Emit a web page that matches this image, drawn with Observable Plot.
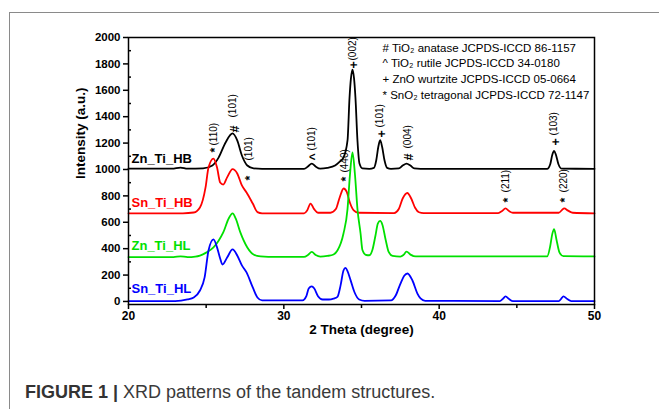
<!DOCTYPE html>
<html><head><meta charset="utf-8">
<script src="https://cdn.jsdelivr.net/npm/d3@7"></script>
<script src="https://cdn.jsdelivr.net/npm/@observablehq/plot@0.6"></script>
<style>
html,body{margin:0;padding:0;background:#fff;}
#wrap{position:relative;width:659px;height:409px;overflow:hidden;font-family:'Liberation Sans',Arial,sans-serif;}
#frameTop{position:absolute;left:10px;top:12px;width:649px;height:0;border-top:1.5px solid #8a8a8a;}
#frameLeft{position:absolute;left:9px;top:12px;width:0;height:397px;border-left:1.5px solid #8a8a8a;}
#chart{position:absolute;left:0;top:0;}
#caption{position:absolute;left:25px;top:381px;font-size:18px;line-height:22px;color:#3a3a3a;white-space:nowrap;}
#caption b{color:#333;}
</style></head>
<body>
<div id="wrap">
  <div id="chart"></div>
  <div id="frameTop"></div>
  <div id="frameLeft"></div>
  <div id="caption"><b>FIGURE 1 |</b> XRD patterns of the tandem structures.</div>
</div>
<script>
// ---- data (2θ in degrees, intensity in a.u.) ----
const seriesNames = ["Zn_Ti_HB", "Sn_Ti_HB", "Zn_Ti_HL", "Sn_Ti_HL"];
const seriesColors = ["#000000", "#ff0000", "#00e000", "#0000ff"];
const labelY = [1083, 750, 424, 98];

const znHB = [[20,1006],[22.8,1006],[23.35,1014],[23.8,1006],[24.8,1008],[25.4,1030],[25.8,1090],[26.25,1205],[26.7,1273],[27.0,1220],[27.3,1106],[27.65,1030],[28.05,1008],[28.6,1005],[31.3,1005],[31.55,1022],[31.8,1045],[32.05,1022],[32.35,1006],[32.8,1012],[33.3,1030],[33.6,1060],[33.84,1090],[34.1,1220],[34.23,1545],[34.32,1690],[34.42,1757],[34.52,1690],[34.61,1545],[34.74,1220],[34.87,1045],[35.06,1008],[35.5,1005],[35.8,1012],[35.95,1070],[36.08,1170],[36.2,1222],[36.33,1170],[36.48,1070],[36.65,1012],[36.9,1005],[37.4,1008],[37.65,1030],[37.9,1045],[38.15,1030],[38.4,1008],[38.8,1005],[46.95,1005],[47.15,1040],[47.28,1110],[47.4,1140],[47.52,1110],[47.68,1040],[47.9,1006],[50,1005]];

const snHB = [[20,668],[23.5,668],[24.2,674],[24.6,712],[24.96,864],[25.15,1015],[25.47,1083],[25.7,1015],[25.9,902],[26.1,886],[26.35,940],[26.7,1002],[27.0,970],[27.3,879],[27.6,826],[28.0,742],[28.3,677],[28.6,668],[31.3,668],[31.5,690],[31.72,742],[31.95,700],[32.2,672],[33.0,672],[33.35,700],[33.6,790],[33.85,856],[34.05,830],[34.25,750],[34.5,690],[34.8,672],[37.1,670],[37.4,700],[37.65,780],[37.95,822],[38.2,780],[38.45,710],[38.7,676],[39.0,670],[43.8,670],[44.05,685],[44.27,705],[44.5,685],[44.75,672],[47.7,672],[47.9,692],[48.05,705],[48.3,688],[48.6,672],[50,668]];

const znHL = [[20,336],[22.9,336],[23.35,342],[23.8,336],[24.3,340],[24.6,348],[25.0,370],[25.47,409],[25.8,460],[26.1,523],[26.45,629],[26.7,667],[26.9,629],[27.2,523],[27.65,409],[28.05,356],[28.5,341],[29,338],[31.3,338],[31.55,352],[31.8,375],[32.05,352],[32.35,340],[32.8,345],[33.2,356],[33.45,386],[33.84,515],[34.1,700],[34.25,950],[34.42,1130],[34.58,960],[34.74,700],[34.94,515],[35.06,390],[35.3,352],[35.5,350],[35.7,390],[35.9,500],[36.05,590],[36.2,610],[36.35,580],[36.55,470],[36.75,375],[37.0,345],[37.5,340],[37.7,352],[37.9,378],[38.15,355],[38.5,341],[46.95,341],[47.15,420],[47.28,510],[47.4,548],[47.55,470],[47.75,370],[48.0,343],[50,341]];

const snHL = [[20,2],[23.0,2],[23.8,15],[24.2,30],[24.6,83],[24.9,182],[25.15,386],[25.47,470],[25.7,410],[25.9,326],[26.05,280],[26.35,333],[26.7,394],[27.0,348],[27.3,273],[27.6,220],[28.0,106],[28.3,30],[28.6,8],[31.2,8],[31.45,40],[31.6,98],[31.8,114],[31.95,100],[32.2,40],[32.5,15],[32.9,15],[33.2,22],[33.45,35],[33.65,120],[33.84,235],[33.97,255],[34.1,230],[34.3,160],[34.55,70],[34.85,15],[35.2,5],[36.9,8],[37.2,45],[37.51,136],[37.75,195],[37.96,212],[38.28,159],[38.6,60],[38.8,23],[39.1,5],[43.9,3],[44.1,20],[44.27,38],[44.5,18],[44.75,3],[47.7,3],[47.85,20],[48.0,38],[48.25,18],[48.5,3],[50,3]];

// peak annotations: phase symbol + Miller index
const peakSym = ["*", "#", "*", "^", "+", "*", "+", "#", "*", "+", "*"];
const peakHkl = ["(110)", "(101)", "(101)", "(101)", "(002)", "(440)", "(101)", "(004)", "(211)", "(103)", "(220)"];
const peakX   = [25.47, 26.7, 27.72, 31.8, 34.42, 33.9, 36.2, 37.95, 44.3, 47.4, 48.0];
const symY    = [1129, 1280, 917, 1068, 1765, 909, 1242, 1068, 750, 1182, 750];
const hklY    = [1182, 1394, 1068, 1144, 1826, 977, 1318, 1159, 826, 1258, 826];

const legendLines = [
  "# TiO\u2082 anatase JCPDS-ICCD 86-1157",
  "^ TiO\u2082 rutile JCPDS-ICCD 34-0180",
  "+ ZnO wurtzite JCPDS-ICCD 05-0664",
  "* SnO\u2082 tetragonal JCPDS-ICCD 72-1147"
];
const xTicks = [20, 30, 40, 50];
const xMinor = [25, 35, 45];
const yTicks = d3.range(0, 2001, 200);
const yMinor = d3.range(100, 2000, 200);

// ---- build table ----
const seriesPts = [znHB, snHB, znHL, snHL];
const lineData = seriesPts.flatMap((pts, i) => pts.map(([x, y]) => ({x, y, name: seriesNames[i]})));

const chart = Plot.plot({
  width: 659, height: 345,
  marginLeft: 128, marginRight: 65, marginTop: 37, marginBottom: 41,
  x: {domain: [20, 50]},
  y: {domain: [-23, 2000]},
  color: {domain: seriesNames, range: seriesColors},
  style: {fontFamily: "'Liberation Sans', Arial, sans-serif", color: "#000", background: "transparent", overflow: "visible"},
  marks: [
    Plot.line(lineData, {x: "x", y: "y", z: "name", stroke: "name", strokeWidth: 1.8, curve: "monotone-x"}),
    Plot.frame({stroke: "#000", strokeWidth: 1.5}),
    Plot.axisX({ticks: xTicks, tickSize: 5, tickPadding: 2, fontSize: 12, fontWeight: "bold", label: null, strokeWidth: 1.5}),
    Plot.axisX({ticks: xMinor, tickSize: 4, tickFormat: () => "", label: null, strokeWidth: 1.5}),
    Plot.axisY({ticks: yTicks, tickSize: 5, tickPadding: 3, tickFormat: d3.format("d"), fontSize: 11.5, fontWeight: "bold", label: null, strokeWidth: 1.5}),
    Plot.axisY({ticks: yMinor, tickSize: 3, dx: 3, tickFormat: () => "", label: null, strokeWidth: 1.5}),
    Plot.text(["Intensity (a.u.)"], {text: d => d, frameAnchor: "left", rotate: -90, dx: -48, dy: 8, fontSize: 13.5, fontWeight: "bold"}),
    Plot.text(["2 Theta (degree)"], {text: d => d, frameAnchor: "bottom", dy: 29, fontSize: 13.5, fontWeight: "bold"}),
    Plot.text(seriesNames, {x: 20, y: (d, i) => labelY[i], text: d => d, fill: d => d, textAnchor: "start", dx: 3, fontSize: 13, fontWeight: "bold"}),
    Plot.text(peakSym, {x: (d, i) => peakX[i], y: (d, i) => symY[i], text: d => d, rotate: -90, textAnchor: "start", dx: 2, fontSize: 12.5, fontWeight: "bold", fill: "#000"}),
    Plot.text(peakHkl, {x: (d, i) => peakX[i], y: (d, i) => hklY[i], text: d => d, rotate: -90, textAnchor: "start", fontSize: 10, fill: "#000"}),
    Plot.text([legendLines.join("\n")], {text: d => d, frameAnchor: "top-left", dx: 254, dy: 3, textAnchor: "start", lineAnchor: "top", lineHeight: 1.36, fontSize: 11.5, fill: "#000"})
  ]
});
document.getElementById("chart").appendChild(chart);
</script>
</body></html>
